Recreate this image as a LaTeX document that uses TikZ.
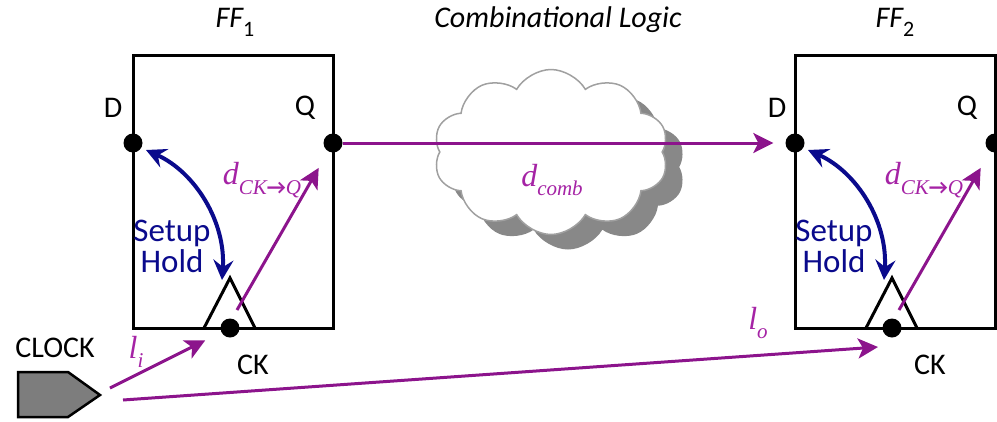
\documentclass[tikz,border=0pt]{standalone}
\usepackage{fontspec}
\setmainfont{Carlito}
\newfontfamily\tnr{Liberation Serif}
\newfontfamily\arrfont{Carlito}
\usetikzlibrary{shapes.symbols,arrows.meta,calc}
\definecolor{pline}{RGB}{140,20,140}
\definecolor{ptext}{RGB}{165,35,165}
\definecolor{navyb}{RGB}{10,10,140}
\definecolor{shadowgray}{RGB}{136,136,136}
\definecolor{cloudline}{RGB}{160,160,160}
\definecolor{clockgray}{RGB}{125,125,125}
\newcommand\dlab[2]{{\tnr\itshape\fontsize{32}{34}\selectfont #1\raisebox{-0.3em}{\fontsize{21}{22}\selectfont #2}}}
\newcommand\ckq{CK{\arrfont\upshape\bfseries →}Q}
\begin{document}
\begin{tikzpicture}[x=1pt,y=-1pt,
  ffbox/.style={draw=black,line width=3pt},
  pin/.style={circle,fill=black,inner sep=0pt,minimum size=19pt},
  lbl/.style={font=\fontsize{30}{32}\selectfont},
  ttl/.style={font=\fontsize{30}{32}\selectfont\itshape},
  sh/.style={font=\fontsize{33}{35}\selectfont,text=navyb,align=center},
  plab/.style={text=ptext,inner sep=0pt},
  plink/.style={draw=pline,line width=3pt,-{Stealth[length=20pt,width=20pt,inset=5pt]}},
  blink/.style={draw=navyb,line width=4pt,{Stealth[length=20pt,width=20pt,inset=7pt]}-{Stealth[length=20pt,width=20pt,inset=7pt]}},
  cloudshape/.style={cloud,cloud puffs=10,cloud puff arc=120,aspect=1.4,minimum width=235pt,minimum height=165pt,inner sep=0pt}
]
\useasboundingbox (0,0) rectangle (997,421);

% cloud
\node[cloudshape,fill=shadowgray] (cloudsh) at (568,167) {};
\node[cloudshape,fill=white,draw=cloudline,line width=1.5pt] (cloud) at (551,152) {};

% FF1
\draw[ffbox] (133,55) rectangle (333,328);
\draw[line width=3pt,line join=miter] (204,328) coordinate (t1a) -- (230,278) coordinate (t1b) -- (255,328) coordinate (t1c);
\node[pin] (D1) at (133,143) {};
\node[pin] (Q1) at (333,143) {};
\node[pin] (CK1) at (230,328) {};
\node[lbl] (D1l) at (113,108) {D};
\node[lbl] (Q1l) at (305,108) {Q};
\node[lbl] (CK1l) at (253,365) {CK};
\node[ttl] (FF1l) at (235,22) {FF\raisebox{-0.3em}{\fontsize{22}{24}\selectfont\upshape 1}};
\node[sh] (SH1) at (172,246) {Setup\\[-4pt]Hold};
\node[plab] (dcq1) at (262,180) {\dlab{d}{\ckq}};

% FF2
\draw[ffbox] (795,55) rectangle (995,328);
\draw[line width=3pt,line join=miter] (866,328) coordinate (t2a) -- (892,278) coordinate (t2b) -- (917,328) coordinate (t2c);
\node[pin] (D2) at (795,143) {};
\node[pin] (Q2) at (995,143) {};
\node[pin] (CK2) at (892,328) {};
\node[lbl] (D2l) at (777,108) {D};
\node[lbl] (Q2l) at (967,108) {Q};
\node[lbl] (CK2l) at (930,365) {CK};
\node[ttl] (FF2l) at (895,22) {FF\raisebox{-0.3em}{\fontsize{22}{24}\selectfont\upshape 2}};
\node[sh] (SH2) at (834,246) {Setup\\[-4pt]Hold};
\node[plab] (dcq2) at (924,180) {\dlab{d}{\ckq}};

% title and comb label
\node[ttl] (CL) at (558,20) {Combinational Logic};
\node[plab] (dcomb) at (552,180) {\dlab{d}{comb}};

% internal arrows FF1
\coordinate (sh1s) at (146,150);
\coordinate (sh1e) at (222,280);
\draw[blink] (sh1s) .. controls (195,172) and (226,222) .. (sh1e);
\coordinate (cq1s) at (237,310);
\draw[plink,shorten >=19pt] (cq1s) -- (Q1);

% internal arrows FF2
\coordinate (sh2s) at (808,150);
\coordinate (sh2e) at (884,280);
\draw[blink] (sh2s) .. controls (857,172) and (888,222) .. (sh2e);
\coordinate (cq2s) at (899,310);
\draw[plink,shorten >=19pt] (cq2s) -- (Q2);

% comb path
\draw[plink,shorten >=12pt] (Q1) -- (D2);

% clock
\draw[line width=2.5pt,fill=clockgray,line join=miter] (18,372) coordinate (ck0) -- (68,372) -- (100,395) coordinate (cktip) -- (68,417) -- (18,417) -- cycle;
\node[lbl] (CLK) at (55,348) {CLOCK};
\coordinate (lis) at (110,388);
\coordinate (los) at (123,400);
\coordinate (loe) at (878,347);
\draw[plink,shorten >=18pt] (lis) -- (CK1);
\draw[plink] (los) -- (loe);
\node[plab] (li) at (136,352) {\tnr\itshape\fontsize{32}{34}\selectfont l\raisebox{-0.3em}{\fontsize{21}{22}\selectfont i}};
\node[plab] (lo) at (758,323) {\tnr\itshape\fontsize{32}{34}\selectfont l\raisebox{-0.3em}{\fontsize{21}{22}\selectfont o}};
\end{tikzpicture}
\end{document}
